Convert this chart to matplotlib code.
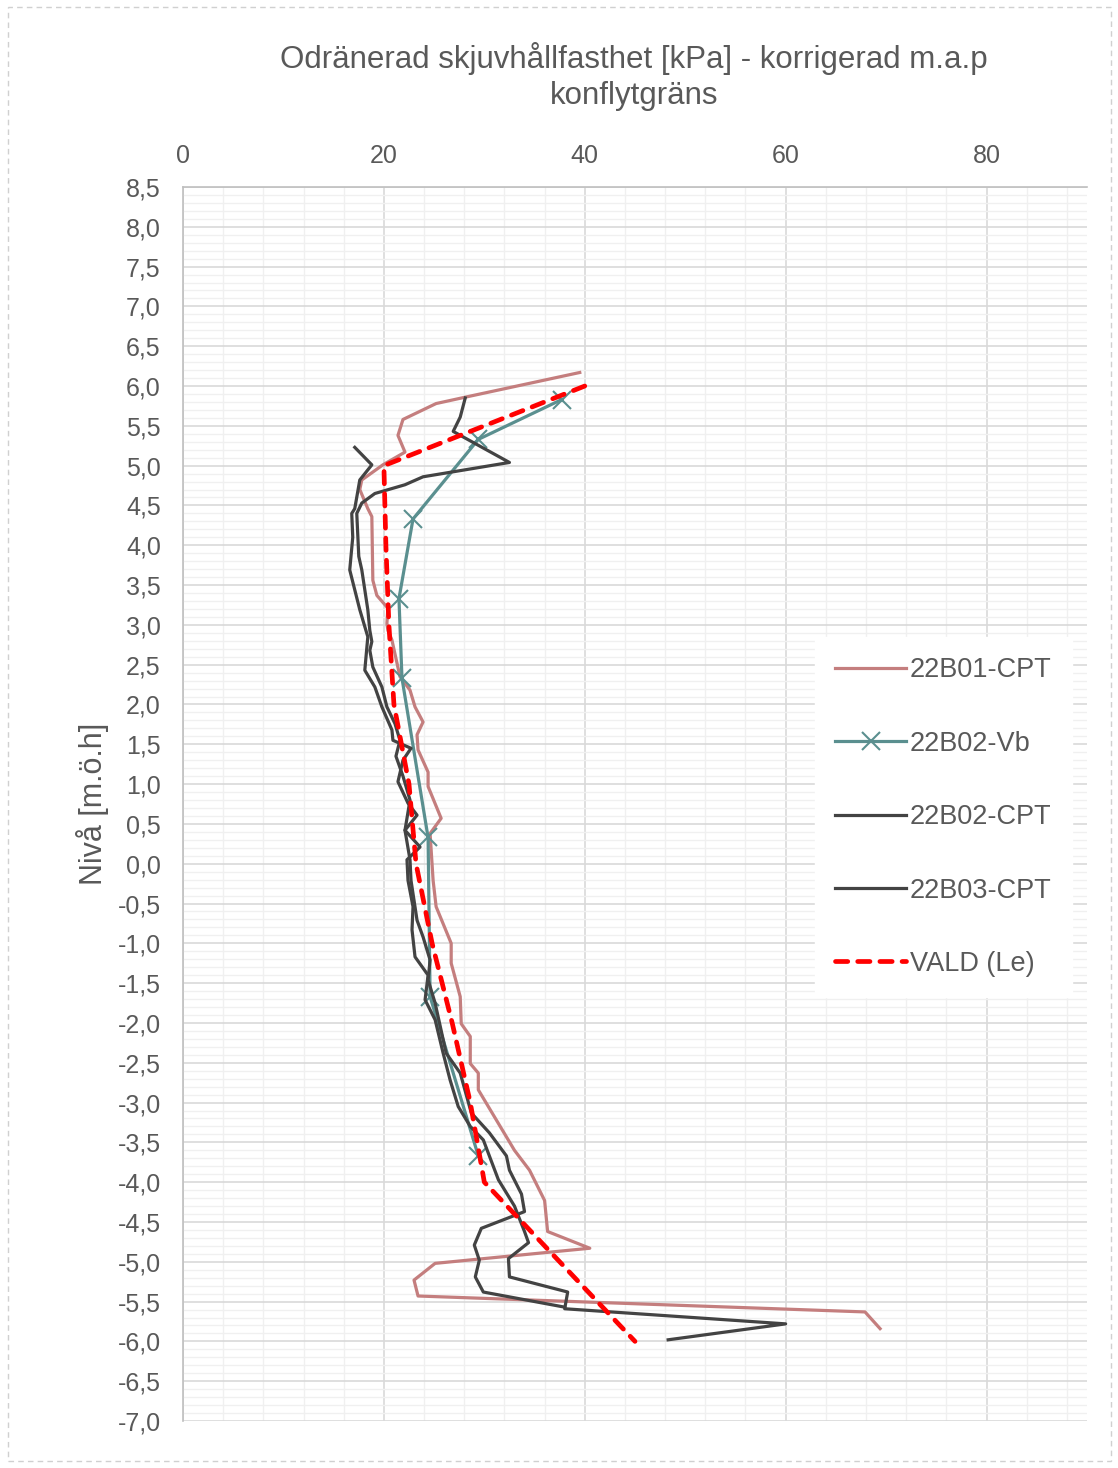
import numpy as np
import matplotlib
matplotlib.use("Agg")
import matplotlib.pyplot as plt
from matplotlib.patches import Rectangle

plt.rcParams['font.family'] = ['Liberation Sans', 'DejaVu Sans']

# 22B01-CPT (shear strength kPa, level m)
b01_cpt_x = [39.5, 28.1, 25.2, 21.9, 21.4, 22.1, 19.9, 17.8, 17.6, 18.4, 18.8, 18.9, 19.3,
             20.4, 20.3, 20.4, 20.8, 21.6, 22.6, 23.1, 23.9, 23.3, 23.4, 24.4, 24.4, 25.7,
             24.6, 24.9, 25.2, 26.7, 26.7, 27.6, 27.7, 28.6, 28.6, 29.4, 29.4, 33.0, 34.5,
             36.0, 36.3, 40.5, 25.1, 23.0, 23.4, 67.9, 69.4]
b01_cpt_y = [6.17, 5.86, 5.78, 5.58, 5.38, 5.17, 5.01, 4.82, 4.70, 4.46, 4.36, 3.56, 3.37,
             3.21, 3.02, 2.93, 2.81, 2.35, 2.18, 1.97, 1.78, 1.62, 1.43, 1.15, 0.97, 0.57,
             0.38, -0.21, -0.54, -1.00, -1.25, -1.67, -2.01, -2.17, -2.51, -2.63, -2.84, -3.60, -3.85,
             -4.23, -4.62, -4.83, -5.02, -5.23, -5.43, -5.63, -5.84]

# 22B02-Vb
b02_vb_x = [37.7, 29.4, 22.9, 21.5, 21.8, 24.4, 24.6, 29.4]
b02_vb_y = [5.83, 5.33, 4.33, 3.33, 2.33, 0.33, -1.67, -3.67]

# 22B02-CPT
b02_cpt_x = [28.1, 27.6, 26.9, 27.9, 32.5, 23.9, 22.1, 19.1, 17.8, 17.3, 17.5, 17.8, 18.1,
             18.4, 18.6, 18.8, 18.6, 18.9, 19.8, 20.3, 21.1, 21.6, 21.2, 21.9, 22.6, 22.1,
             23.6, 22.3, 22.4, 22.9, 22.8, 23.1, 24.4, 24.1, 25.1, 25.9, 26.6, 27.4, 28.6,
             29.9, 31.4, 33.0, 34.0, 34.4, 32.4, 32.5, 38.3, 38.0, 60.0, 48.3]
b02_cpt_y = [5.85, 5.61, 5.43, 5.36, 5.04, 4.86, 4.76, 4.65, 4.53, 4.40, 3.86, 3.69, 3.44,
             3.19, 2.93, 2.79, 2.68, 2.47, 2.22, 1.97, 1.76, 1.55, 1.35, 1.10, 0.80, 0.42,
             0.21, 0.05, -0.21, -0.54, -0.83, -1.17, -1.40, -1.71, -1.96, -2.38, -2.72, -3.05, -3.30,
             -3.47, -3.97, -4.30, -4.62, -4.76, -4.96, -5.19, -5.38, -5.59, -5.78, -5.98]

# 22B03-CPT
b03_cpt_x = [17.1, 18.8, 17.6, 17.1, 16.8, 16.9, 16.6, 17.1, 17.6, 18.4, 18.1, 19.1, 19.8,
             20.8, 20.9, 22.7, 21.9, 21.4, 22.4, 23.3, 22.1, 22.6, 22.7, 23.3, 23.9, 24.6,
             24.4, 25.1, 26.2, 27.6, 28.7, 30.5, 32.2, 32.5, 33.7, 34.0, 29.7, 29.0, 29.5,
             29.1, 29.9, 38.0]
b03_cpt_y = [5.23, 5.01, 4.82, 4.46, 4.40, 4.10, 3.69, 3.44, 3.19, 2.85, 2.43, 2.22, 1.97,
             1.68, 1.55, 1.45, 1.30, 1.03, 0.76, 0.61, 0.42, 0.05, -0.21, -0.71, -0.92, -1.21,
             -1.46, -1.75, -2.38, -2.63, -3.13, -3.38, -3.67, -3.85, -4.15, -4.37, -4.58, -4.79, -4.98,
             -5.19, -5.38, -5.57]

# VALD (Le)
vald_x = [40.0, 20.0, 20.2, 20.5, 21.0, 22.5, 23.2, 24.8, 26.8, 28.6, 30.0, 45.0]
vald_y = [6.0, 5.0, 4.0, 3.0, 2.0, 1.0, 0.0, -1.0, -2.0, -3.0, -4.0, -6.0]

labels = ["22B01-CPT", "22B02-Vb", "22B02-CPT", "22B03-CPT", "VALD (Le)"]

txt = "#595959"
fig = plt.figure(figsize=(11.18, 14.68), dpi=100)
ax = fig.add_axes([183 / 1118, 1 - 1421 / 1468, 904 / 1118, 1234 / 1468])

ax.plot(b01_cpt_x, b01_cpt_y, color="#c47e7e", lw=2.3, label=labels[0])
ax.plot(b02_vb_x, b02_vb_y, color="#5a8f8f", lw=2.3, marker="x", ms=13, mew=1.5,
        label=labels[1])
ax.plot(b02_cpt_x, b02_cpt_y, color="#434343", lw=2.3, label=labels[2])
ax.plot(b03_cpt_x, b03_cpt_y, color="#434343", lw=2.3, label=labels[3])
ax.plot(vald_x, vald_y, color="#ff0000", lw=3.4, ls=(0, (2.6, 2.1)),
        dash_capstyle="round", label=labels[4])

ax.set_xlim(0, 90)
ax.set_ylim(-7, 8.5)
ax.xaxis.tick_top()
ax.set_xticks(np.arange(0, 81, 20))
ax.set_xticks(np.arange(0, 90, 4), minor=True)
yt = np.arange(-7, 8.51, 0.5)
ax.set_yticks(yt)
ax.set_yticklabels([f"{v:.1f}".replace(".", ",") for v in yt])
ax.set_yticks(np.arange(-7, 8.51, 0.1), minor=True)
ax.tick_params(which="both", length=0, labelsize=18, labelcolor=txt)
ax.tick_params(axis="y", pad=16)
ax.tick_params(axis="x", pad=14)

ax.grid(which="major", color="#d9d9d9", lw=1.2)
ax.grid(which="minor", color="#f0f0f0", lw=1.0)
ax.set_axisbelow(True)
for s in ["right", "bottom"]:
    ax.spines[s].set_visible(False)
for s in ["left", "top"]:
    ax.spines[s].set_color("#bfbfbf")
    ax.spines[s].set_linewidth(1.2)

ax.set_ylabel("Nivå [m.ö.h]", fontsize=22, color=txt, labelpad=6)

fig.text(634 / 1118, 1 - 42 / 1468,
         "Odränerad skjuvhållfasthet [kPa] - korrigerad m.a.p\nkonflytgräns",
         ha="center", va="top", fontsize=22.5, color=txt, linespacing=1.27)

leg = ax.legend(loc="upper left", bbox_to_anchor=(815 / 1118, 1 - 637 / 1468),
                bbox_transform=fig.transFigure, borderaxespad=0, fontsize=19.5,
                labelspacing=1.75, handlelength=2.6, handletextpad=0.15, borderpad=0.75,
                frameon=True, fancybox=False, framealpha=1)
leg.get_frame().set_edgecolor("white")
for t in leg.get_texts():
    t.set_color(txt)

fig.patches.append(Rectangle((8 / 1118, 1 - 1461 / 1468), 1103 / 1118, 1454 / 1468,
                             transform=fig.transFigure, fill=False, ec="#d0d0d0",
                             lw=1.0, ls=(0, (4, 3))))

fig.savefig("out.png", dpi=100)
